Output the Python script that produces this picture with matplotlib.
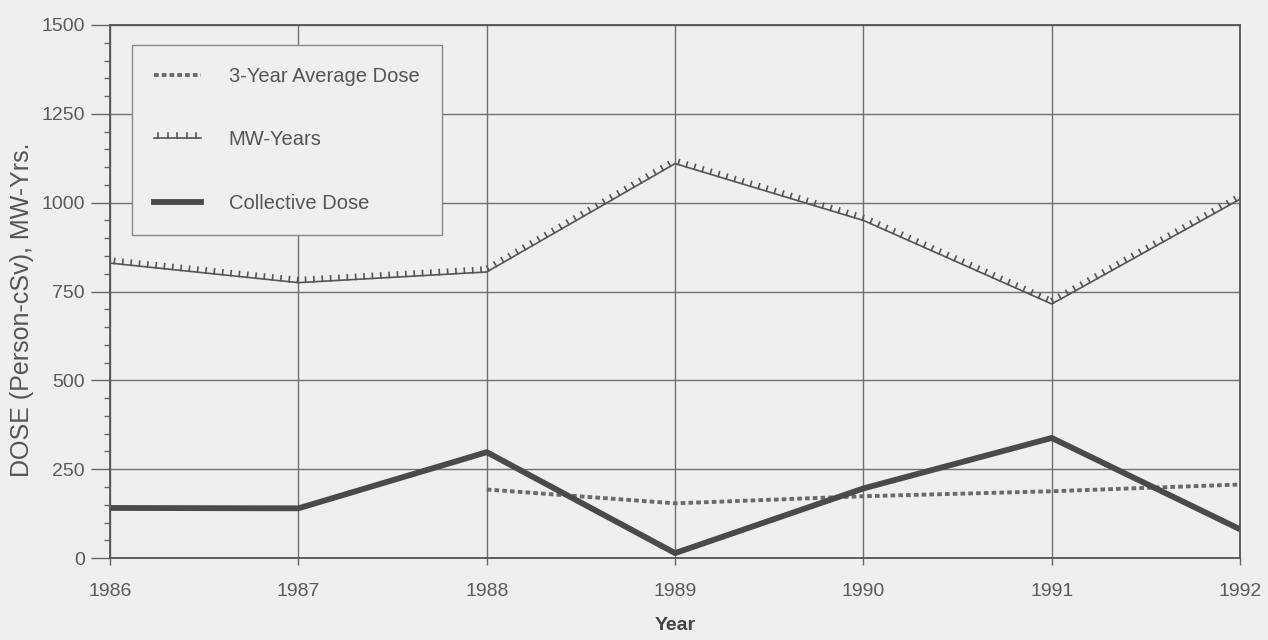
import matplotlib
matplotlib.use("Agg")
import matplotlib.pyplot as plt
import matplotlib.patheffects as pe
from matplotlib.ticker import MultipleLocator
from matplotlib.lines import Line2D

years = [1986, 1987, 1988, 1989, 1990, 1991, 1992]
mw_years = [830, 775, 805, 1110, 950, 715, 1010]
collective_dose = [141, 140, 298, 14, 196, 338, 81]
avg_years = [1988, 1989, 1990, 1991, 1992]
avg_dose = [193, 154, 174, 188, 207]
year_labels = ['1986', '1987', '1988', '1989', '1990', '1991', '1992']

plt.rcParams['font.family'] = ['Liberation Sans', 'DejaVu Sans']
bg = '#efefef'
txt = '#5a5a5a'

fig = plt.figure(figsize=(12.68, 6.4), dpi=100, facecolor=bg)
ax = fig.add_axes([0.0868, 0.128, 0.8912, 0.833], facecolor=bg)

ax.set_xlim(1986, 1992)
ax.set_ylim(0, 1500)
ax.yaxis.set_major_locator(MultipleLocator(250))
ax.yaxis.set_minor_locator(MultipleLocator(50))
ax.set_xticks(years)
ax.set_xticklabels(year_labels)
ax.grid(True, which='major', color='#707070', linewidth=1.0)
ax.set_axisbelow(True)

for s in ax.spines.values():
    s.set_color('#555555')
    s.set_linewidth(1.3)

ax.tick_params(axis='y', which='major', length=14, width=1, color='#666666',
               labelsize=14, labelcolor=txt, pad=4)
ax.tick_params(axis='y', which='minor', length=4, width=1, color='#666666')
ax.tick_params(axis='x', which='major', length=5, width=1, color='#666666',
               labelsize=14, labelcolor=txt, pad=13)

tick_fx = [pe.withTickedStroke(spacing=6, angle=90, length=0.6)]
# MW-Years
ax.plot(years, mw_years, color='#555555', linewidth=1.2, path_effects=tick_fx)
# 3-Year Average Dose
ax.plot(avg_years, avg_dose, color='#6a6a6a', linewidth=2.8, linestyle=(0, (1.2, 0.8)))
# Collective Dose
ax.plot(years, collective_dose, color='#4a4a4a', linewidth=4.2, solid_capstyle='butt')

ax.set_xlabel('Year', fontsize=14, fontweight='bold', color='#444444', labelpad=12)
ax.set_ylabel('DOSE (Person-cSv), MW-Yrs.', fontsize=18, color='#555555')
ax.yaxis.set_label_coords(-0.067, 0.465)

h_avg = Line2D([], [], color='#6a6a6a', linewidth=2.8, linestyle=(0, (1.2, 0.8)))
h_mw = Line2D([], [], color='#555555', linewidth=1.2, path_effects=tick_fx)
h_cd = Line2D([], [], color='#4a4a4a', linewidth=4.2)

leg = ax.legend([h_avg, h_mw, h_cd], ['3-Year Average Dose', 'MW-Years', 'Collective Dose'],
                loc='upper left', bbox_to_anchor=(0.0195, 0.9625),
                frameon=True, fancybox=False, facecolor=bg, edgecolor='#888888',
                fontsize=14.5, labelspacing=2.2, handlelength=2.3, handletextpad=1.4,
                borderpad=1.1, borderaxespad=0)
for t in leg.get_texts():
    t.set_color('#555555')
leg.get_frame().set_linewidth(1.0)
leg.get_frame().set_alpha(1.0)

fig.savefig('out.png', dpi=100, facecolor=bg)
